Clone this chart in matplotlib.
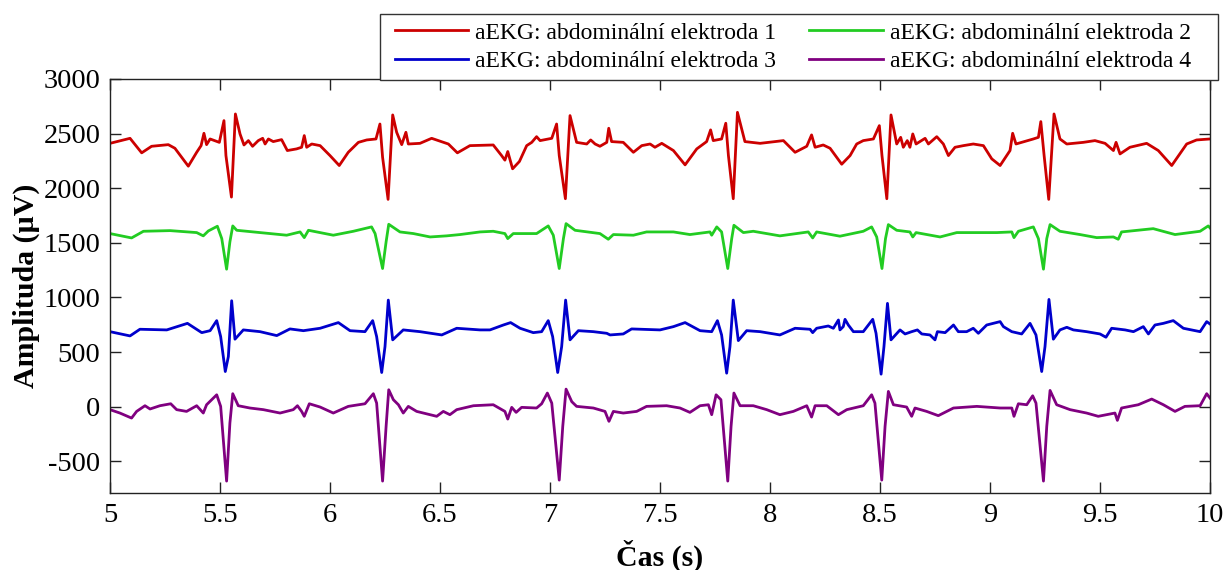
import matplotlib
matplotlib.use("Agg")
import matplotlib.pyplot as plt
from matplotlib.patches import Rectangle

# ---- data (time in s, amplitude in µV) ----
t1 = [5.0, 5.091, 5.144, 5.189, 5.265, 5.295, 5.356, 5.394, 5.414, 5.427, 5.439, 5.455, 5.497, 5.518, 5.527, 5.552, 5.570, 5.591, 5.609, 5.629, 5.648, 5.674, 5.694, 5.705, 5.720, 5.742, 5.780, 5.806, 5.848, 5.871, 5.883, 5.894, 5.917, 5.955, 6.0, 6.042, 6.083, 6.129, 6.167, 6.209, 6.227, 6.239, 6.264, 6.285, 6.303, 6.326, 6.345, 6.356, 6.409, 6.462, 6.538, 6.579, 6.636, 6.742, 6.780, 6.795, 6.808, 6.830, 6.861, 6.894, 6.917, 6.939, 6.955, 7.008, 7.030, 7.042, 7.070, 7.091, 7.121, 7.167, 7.185, 7.205, 7.227, 7.258, 7.267, 7.280, 7.333, 7.379, 7.417, 7.455, 7.477, 7.508, 7.561, 7.614, 7.667, 7.712, 7.730, 7.742, 7.780, 7.799, 7.811, 7.833, 7.852, 7.886, 7.955, 8.061, 8.114, 8.167, 8.189, 8.205, 8.242, 8.273, 8.326, 8.364, 8.394, 8.424, 8.470, 8.497, 8.509, 8.531, 8.550, 8.576, 8.594, 8.606, 8.624, 8.636, 8.649, 8.664, 8.705, 8.720, 8.758, 8.788, 8.811, 8.841, 8.879, 8.924, 8.970, 9.008, 9.046, 9.091, 9.103, 9.118, 9.197, 9.220, 9.231, 9.246, 9.267, 9.291, 9.318, 9.349, 9.424, 9.477, 9.523, 9.561, 9.573, 9.591, 9.636, 9.712, 9.765, 9.826, 9.894, 9.939, 10.0]
v1 = [2411, 2457, 2324, 2384, 2399, 2366, 2202, 2329, 2390, 2503, 2399, 2451, 2420, 2619, 2299, 1919, 2680, 2497, 2396, 2436, 2384, 2436, 2457, 2405, 2451, 2427, 2445, 2345, 2360, 2375, 2482, 2375, 2405, 2390, 2299, 2208, 2329, 2420, 2442, 2451, 2588, 2284, 1898, 2671, 2512, 2399, 2512, 2405, 2411, 2457, 2405, 2324, 2390, 2396, 2299, 2257, 2336, 2178, 2245, 2390, 2420, 2472, 2436, 2457, 2588, 2299, 1904, 2665, 2420, 2405, 2442, 2405, 2384, 2420, 2549, 2427, 2420, 2329, 2390, 2405, 2375, 2411, 2345, 2214, 2360, 2427, 2534, 2436, 2451, 2595, 2299, 1904, 2695, 2427, 2411, 2436, 2329, 2384, 2488, 2375, 2396, 2366, 2220, 2299, 2405, 2436, 2451, 2573, 2299, 1904, 2671, 2405, 2466, 2375, 2436, 2375, 2497, 2405, 2457, 2405, 2472, 2405, 2299, 2375, 2390, 2405, 2390, 2269, 2208, 2345, 2503, 2405, 2451, 2466, 2610, 2299, 1898, 2680, 2451, 2405, 2420, 2436, 2411, 2345, 2420, 2314, 2375, 2411, 2345, 2208, 2405, 2442, 2451]

t2 = [5.0, 5.098, 5.152, 5.273, 5.394, 5.424, 5.447, 5.488, 5.508, 5.530, 5.545, 5.558, 5.576, 5.682, 5.803, 5.864, 5.883, 5.902, 6.015, 6.106, 6.189, 6.205, 6.239, 6.255, 6.267, 6.318, 6.379, 6.455, 6.530, 6.591, 6.682, 6.742, 6.795, 6.808, 6.833, 6.939, 6.992, 7.015, 7.042, 7.061, 7.073, 7.114, 7.227, 7.265, 7.288, 7.379, 7.439, 7.561, 7.636, 7.727, 7.735, 7.758, 7.780, 7.808, 7.826, 7.836, 7.879, 7.924, 8.045, 8.174, 8.194, 8.212, 8.318, 8.424, 8.462, 8.485, 8.509, 8.525, 8.538, 8.576, 8.636, 8.649, 8.664, 8.773, 8.849, 9.031, 9.099, 9.109, 9.129, 9.197, 9.220, 9.243, 9.258, 9.273, 9.318, 9.409, 9.485, 9.561, 9.583, 9.598, 9.742, 9.841, 9.955, 9.992, 10.0]
v2 = [1585, 1545, 1606, 1612, 1594, 1564, 1609, 1652, 1539, 1259, 1509, 1655, 1615, 1594, 1570, 1600, 1548, 1615, 1570, 1606, 1646, 1585, 1265, 1509, 1670, 1600, 1585, 1554, 1564, 1576, 1600, 1606, 1585, 1539, 1585, 1585, 1655, 1570, 1265, 1539, 1676, 1615, 1585, 1533, 1576, 1570, 1600, 1600, 1576, 1600, 1570, 1646, 1600, 1265, 1539, 1661, 1594, 1606, 1564, 1600, 1545, 1600, 1561, 1606, 1646, 1554, 1265, 1539, 1667, 1615, 1600, 1554, 1594, 1554, 1594, 1594, 1600, 1548, 1606, 1646, 1539, 1259, 1539, 1667, 1606, 1576, 1548, 1554, 1533, 1600, 1630, 1576, 1606, 1655, 1637]

t3 = [5.0, 5.091, 5.136, 5.258, 5.352, 5.417, 5.455, 5.485, 5.503, 5.524, 5.538, 5.553, 5.568, 5.606, 5.682, 5.758, 5.818, 5.879, 5.955, 6.038, 6.091, 6.159, 6.194, 6.212, 6.235, 6.250, 6.265, 6.285, 6.333, 6.409, 6.508, 6.576, 6.682, 6.727, 6.788, 6.821, 6.864, 6.924, 6.962, 6.992, 7.012, 7.035, 7.053, 7.071, 7.091, 7.129, 7.197, 7.258, 7.273, 7.333, 7.371, 7.500, 7.561, 7.614, 7.682, 7.735, 7.761, 7.780, 7.803, 7.818, 7.833, 7.856, 7.894, 7.955, 8.045, 8.114, 8.182, 8.194, 8.212, 8.265, 8.288, 8.311, 8.318, 8.333, 8.341, 8.356, 8.379, 8.424, 8.467, 8.482, 8.505, 8.518, 8.534, 8.550, 8.591, 8.614, 8.644, 8.670, 8.690, 8.727, 8.750, 8.761, 8.796, 8.834, 8.856, 8.894, 8.924, 8.947, 8.985, 9.046, 9.061, 9.099, 9.144, 9.182, 9.209, 9.235, 9.250, 9.268, 9.288, 9.318, 9.349, 9.379, 9.439, 9.500, 9.527, 9.553, 9.614, 9.652, 9.697, 9.720, 9.750, 9.788, 9.833, 9.879, 9.955, 9.985, 10.0]
v3 = [687, 648, 709, 703, 763, 678, 696, 788, 642, 322, 459, 970, 618, 703, 687, 651, 712, 696, 718, 770, 696, 687, 788, 642, 313, 550, 976, 612, 703, 687, 657, 718, 703, 703, 748, 770, 718, 678, 687, 788, 642, 313, 550, 976, 612, 696, 687, 672, 657, 666, 712, 703, 733, 770, 696, 687, 788, 657, 307, 550, 976, 605, 696, 687, 657, 718, 709, 678, 718, 739, 718, 794, 703, 733, 800, 748, 687, 687, 800, 672, 298, 550, 946, 612, 703, 666, 687, 703, 666, 657, 612, 687, 678, 748, 687, 687, 718, 672, 748, 779, 733, 687, 666, 763, 657, 322, 550, 982, 618, 703, 727, 703, 687, 666, 636, 718, 703, 687, 733, 666, 748, 763, 788, 718, 687, 779, 757]

t4 = [5.0, 5.045, 5.098, 5.121, 5.159, 5.182, 5.227, 5.276, 5.303, 5.348, 5.394, 5.424, 5.439, 5.485, 5.503, 5.530, 5.545, 5.558, 5.583, 5.636, 5.697, 5.773, 5.833, 5.852, 5.871, 5.883, 5.906, 5.955, 6.015, 6.083, 6.159, 6.197, 6.212, 6.239, 6.255, 6.267, 6.288, 6.311, 6.333, 6.356, 6.394, 6.455, 6.485, 6.515, 6.545, 6.576, 6.652, 6.742, 6.795, 6.808, 6.826, 6.846, 6.871, 6.939, 6.962, 6.988, 7.008, 7.042, 7.058, 7.073, 7.099, 7.121, 7.197, 7.250, 7.268, 7.288, 7.333, 7.394, 7.439, 7.530, 7.591, 7.636, 7.682, 7.720, 7.735, 7.755, 7.777, 7.808, 7.823, 7.836, 7.864, 7.924, 7.985, 8.045, 8.106, 8.167, 8.189, 8.205, 8.258, 8.311, 8.349, 8.424, 8.462, 8.477, 8.508, 8.523, 8.538, 8.561, 8.621, 8.644, 8.659, 8.712, 8.765, 8.834, 8.940, 9.046, 9.099, 9.109, 9.129, 9.167, 9.194, 9.209, 9.243, 9.258, 9.273, 9.303, 9.364, 9.439, 9.492, 9.568, 9.579, 9.598, 9.674, 9.735, 9.788, 9.841, 9.886, 9.955, 9.985, 10.0]
v4 = [-27, -58, -104, -43, 9, -21, 9, 27, -27, -43, 9, -58, 18, 109, 3, -681, -149, 119, 9, -12, -27, -58, -27, 9, -43, -88, 27, -3, -58, 3, 27, 119, 33, -681, -180, 155, 64, 18, -58, 3, -43, -73, -88, -43, -73, -27, 9, 18, -43, -113, -6, -52, -6, -12, 27, 125, 33, -672, -180, 161, 46, 3, -12, -43, -134, -43, -58, -43, 3, 9, -12, -52, 9, 18, -73, 109, 64, -681, -180, 125, 9, 9, -27, -73, -43, 9, -95, 9, 9, -73, -27, 9, 109, 33, -672, -180, 140, 18, -3, -88, -12, -43, -82, -12, 3, -12, -12, -88, 27, 18, 100, 33, -681, -180, 149, 18, -27, -58, -88, -58, -125, -12, 18, 70, 18, -43, 3, 9, 119, 79]

labels = ["aEKG: abdominální elektroda 1", "aEKG: abdominální elektroda 2",
          "aEKG: abdominální elektroda 3", "aEKG: abdominální elektroda 4"]
colors = ["#CC0000", "#22CC22", "#0000CC", "#800080"]
xticks = [5, 5.5, 6, 6.5, 7, 7.5, 8, 8.5, 9, 9.5, 10]
xticklabels = ["5", "5.5", "6", "6.5", "7", "7.5", "8", "8.5", "9", "9.5", "10"]
yticks = [-500, 0, 500, 1000, 1500, 2000, 2500, 3000]

plt.rcParams['font.family'] = ['Liberation Serif', 'DejaVu Serif']
plt.rcParams['axes.unicode_minus'] = False

W, H = 1225, 570
fig = plt.figure(figsize=(W / 100, H / 100), dpi=100)
ax = fig.add_axes([110 / W, 1 - 493 / H, 1100 / W, (493 - 79) / H])

series = [(t1, v1), (t2, v2), (t3, v3), (t4, v4)]
handles = []
for (t, v), c, lab in zip(series, colors, labels):
    h, = ax.plot(t, v, color=c, lw=2.0, label=lab, solid_joinstyle='round')
    handles.append(h)

ax.set_xlim(5, 10)
ax.set_ylim(-790, 3000)
ax.set_xticks(xticks)
ax.set_xticklabels(xticklabels)
ax.set_yticks(yticks)
ax.tick_params(direction='in', length=8, width=1, top=True, right=True,
               labelsize=20.5, colors='#222222', labelcolor='black', pad=7)
for s in ax.spines.values():
    s.set_color('#222222')
    s.set_linewidth(1.0)

ax.set_xlabel("Čas (s)", fontsize=21.5, fontweight='bold')
ax.set_ylabel("Amplituda (µV)", fontsize=21.5, fontweight='bold')
ax.xaxis.set_label_coords(0.5, -0.113)
ax.yaxis.set_label_coords(-0.064, 0.5)

# legend box (drawn as a figure patch, MATLAB-like padding)
box = Rectangle((380 / W, 1 - 80 / H), (1218 - 380) / W, (80 - 14) / H,
                transform=fig.transFigure, facecolor='white',
                edgecolor='#333333', linewidth=1.0, zorder=3)
fig.patches.append(box)

# legend order: row-wise (1,2 / 3,4) -> matplotlib fills columns first
order = [0, 2, 1, 3]
leg = fig.legend([handles[i] for i in order], [labels[i] for i in order],
                 ncol=2, loc='upper left',
                 bbox_to_anchor=(395 / W, 1 - 22 / H),
                 fontsize=17, frameon=False,
                 handlelength=3.1, handletextpad=0.3,
                 columnspacing=1.4, borderpad=0.0, labelspacing=0.31,
                 borderaxespad=0)
leg.set_zorder(4)

fig.savefig("out.png", dpi=100)
